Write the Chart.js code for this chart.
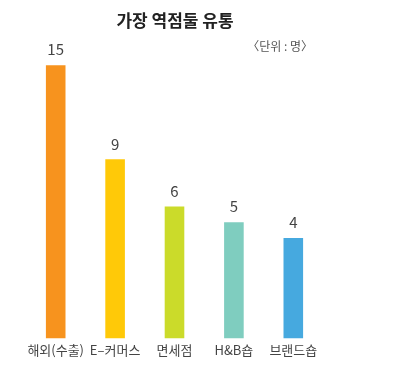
<!DOCTYPE html>
<html>
<head>
<meta charset="utf-8">
<script src="https://cdn.jsdelivr.net/npm/chart.js@4"></script>
<style>
  html, body { margin: 0; padding: 0; background: #fff; }
  #wrap { width: 396px; height: 374px; position: relative; }
</style>
</head>
<body>
<div id="wrap"><canvas id="grafico"></canvas></div>
<script>
// dados
const categorias = ["해외(수출)", "E–커머스", "면세점", "H&B숍", "브랜드숍"];
const valores = [15, 9, 6, 5, 4];
const cores = ["#F7931E", "#FFC908", "#CBDB2A", "#7FCDBF", "#46A9DF"];

const titulo = "가장 역점둘 유통";
const unidade = "〈단위 : 명〉";

const fonte = "'Noto Sans CJK KR', 'Noto Sans', sans-serif";
const eixoMin = -2.4; // o gráfico original não começa em zero

// rótulos em cima das barras + título
const pluginTextos = {
  id: "textos",
  afterDatasetsDraw(chart) {
    const ctx = chart.ctx;
    const meta = chart.getDatasetMeta(0);
    ctx.save();
    ctx.fillStyle = "#444";
    ctx.font = "15px " + fonte;
    ctx.textAlign = "center";
    ctx.textBaseline = "bottom";
    meta.data.forEach((bar, i) => {
      ctx.fillText(valores[i], bar.x, bar.y - 8);
    });

    // título
    ctx.fillStyle = "#222";
    ctx.font = "bold 17px " + fonte;
    ctx.textBaseline = "middle";
    ctx.fillText(titulo, 175, 21);

    ctx.fillStyle = "#555";
    ctx.font = "12px " + fonte;
    ctx.textAlign = "right";
    ctx.fillText(unidade, 313, 46);
    ctx.restore();
  }
};

new Chart(document.getElementById("grafico"), {
  type: "bar",
  data: {
    labels: categorias,
    datasets: [{
      data: valores,
      backgroundColor: cores,
      base: eixoMin,
      barPercentage: 0.33,
      categoryPercentage: 1
    }]
  },
  options: {
    responsive: true,
    maintainAspectRatio: false,
    animation: false,
    layout: { padding: { top: 40, left: 26, right: 73, bottom: 12 } },
    plugins: {
      legend: { display: false },
      tooltip: { enabled: false }
    },
    scales: {
      x: {
        grid: { display: false, drawTicks: false },
        border: { display: false },
        ticks: {
          color: "#444", font: { family: fonte, size: 13 }, padding: 4,
          maxRotation: 0, minRotation: 0, autoSkip: false
        }
      },
      y: {
        display: false,
        min: eixoMin,
        max: 16.6
      }
    }
  },
  plugins: [pluginTextos]
});
</script>
</body>
</html>
